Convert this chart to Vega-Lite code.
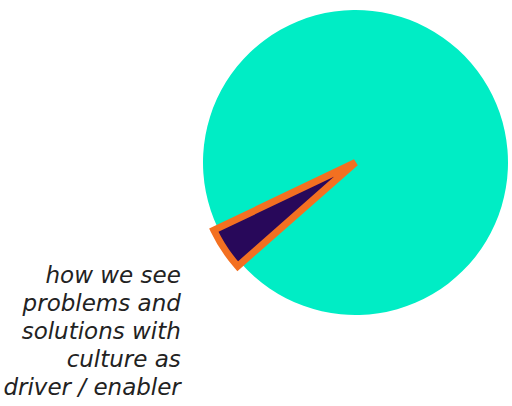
{
  "$schema": "https://vega.github.io/schema/vega-lite/v6.json",
  "autosize": "none",
  "width": 305,
  "height": 305,
  "padding": {"left": 203, "top": 10, "right": 4, "bottom": 91},
  "background": "white",
  "view": {"stroke": null},
  "title": {
    "text": ["how we see", "problems and", "solutions with", "culture as", "driver / enabler"],
    "orient": "bottom",
    "anchor": "start",
    "align": "right",
    "baseline": "alphabetic",
    "offset": -32,
    "dx": -19,
    "font": "DejaVu Sans",
    "fontStyle": "italic",
    "fontWeight": "normal",
    "fontSize": 23,
    "lineHeight": 28,
    "color": "#222222"
  },
  "data": {
    "values": [
      {"part": "other", "value": 95.6},
      {"part": "culture as driver / enabler", "value": 4.4}
    ]
  },
  "mark": {"type": "arc", "strokeJoin": "miter"},
  "encoding": {
    "theta": {"field": "value", "type": "quantitative", "stack": true, "scale": {"range": [4.267, 10.550]}},
    "radius": {"value": {"expr": "datum.part === 'culture as driver / enabler' ? 157 : 152.5"}},
    "order": {"field": "value", "sort": "descending"},
    "color": {
      "field": "part",
      "type": "nominal",
      "scale": {"domain": ["other", "culture as driver / enabler"], "range": ["#00EDC5", "#28085A"]},
      "legend": null
    },
    "stroke": {"value": "#F37021"},
    "strokeWidth": {"condition": {"test": "datum.part === 'culture as driver / enabler'", "value": 7}, "value": 0}
  }
}
